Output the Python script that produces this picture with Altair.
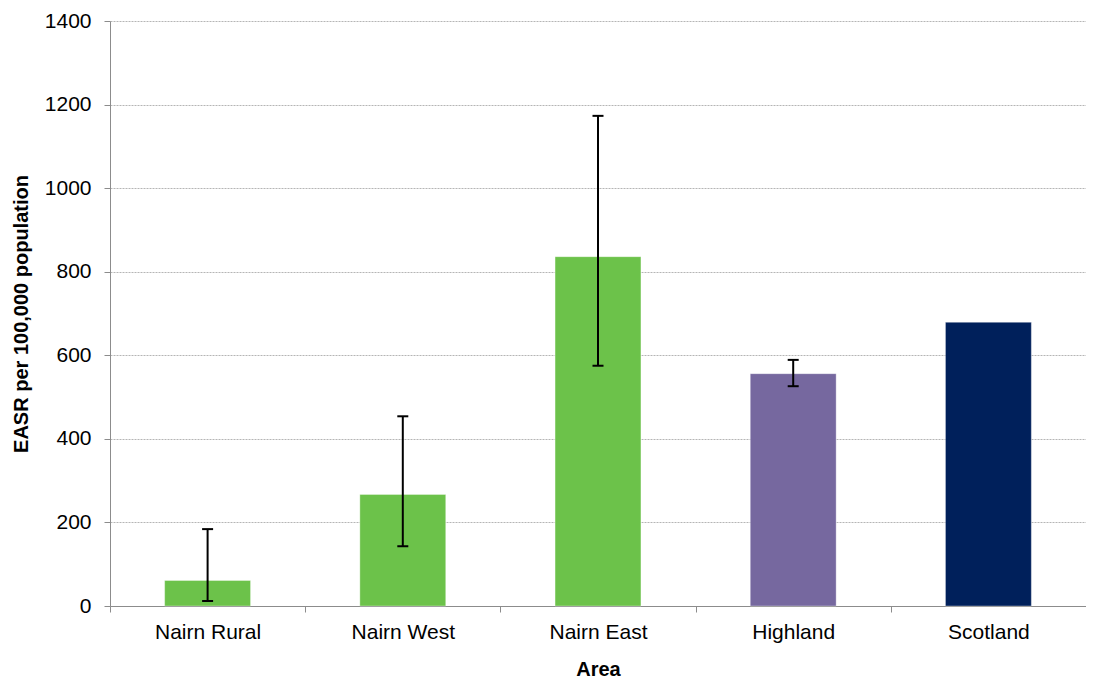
import altair as alt
import pandas as pd

areas = ["Nairn Rural", "Nairn West", "Nairn East", "Highland", "Scotland"]
values = [61, 267, 836, 556, 679]
lower = [12, 143, 575, 526, None]
upper = [184, 454, 1173, 589, None]
colors = ["#6CC24A", "#6CC24A", "#6CC24A", "#76689F", "#00205B"]

df = pd.DataFrame({"Area": areas, "EASR": values, "lo": lower, "hi": upper, "color": colors})
err = df.dropna()

FONT = "Liberation Sans"

x = alt.X("Area:N", sort=areas, title="Area",
          scale=alt.Scale(paddingInner=0, paddingOuter=0),
          axis=alt.Axis(labelAngle=0, tickBand="extent", labelFontSize=21,
                        labelPadding=9, titleFontSize=20, titleFontWeight="bold",
                        titlePadding=17, domainColor="#8c8c8c", tickColor="#8c8c8c",
                        tickSize=6, labelColor="#000", titleColor="#000", grid=False))
y_axis = alt.Axis(values=[0, 200, 400, 600, 800, 1000, 1200, 1400], format="d",
                  labelFontSize=21, labelPadding=13, titleFontSize=20,
                  titleFontWeight="bold", titlePadding=13, domainColor="#8c8c8c",
                  tickColor="#8c8c8c", tickSize=6, labelColor="#000", titleColor="#000",
                  gridColor="#b5b5b5", gridDash=[2, 1], gridWidth=1)
y_scale = alt.Scale(domain=[0, 1400], nice=False)

bars = alt.Chart(df).mark_bar(width={"band": 0.44}, stroke="#ffffff", strokeOpacity=0.35, strokeWidth=1).encode(
    x=x,
    y=alt.Y("EASR:Q", scale=y_scale, axis=y_axis, title="EASR per 100,000 population"),
    color=alt.Color("color:N", scale=None),
)

rules = alt.Chart(err).mark_rule(color="#000", strokeWidth=2).encode(
    x=alt.X("Area:N", sort=areas),
    y=alt.Y("lo:Q", scale=y_scale),
    y2="hi:Q",
)
cap_lo = alt.Chart(err).mark_tick(color="#000", thickness=2, size=11, opacity=1).encode(
    x=alt.X("Area:N", sort=areas),
    y=alt.Y("lo:Q", scale=y_scale),
)
cap_hi = alt.Chart(err).mark_tick(color="#000", thickness=2, size=11, opacity=1).encode(
    x=alt.X("Area:N", sort=areas),
    y=alt.Y("hi:Q", scale=y_scale),
)

chart = alt.layer(bars, rules, cap_lo, cap_hi).properties(
    width=976, height=585,
    autosize=alt.AutoSizeParams(type="none"),
    padding={"left": 102, "top": 13, "right": 0, "bottom": 74},
).configure(font=FONT).configure_view(stroke=None)

chart.save("out.html", embed_options={"renderer": "svg", "actions": False})
